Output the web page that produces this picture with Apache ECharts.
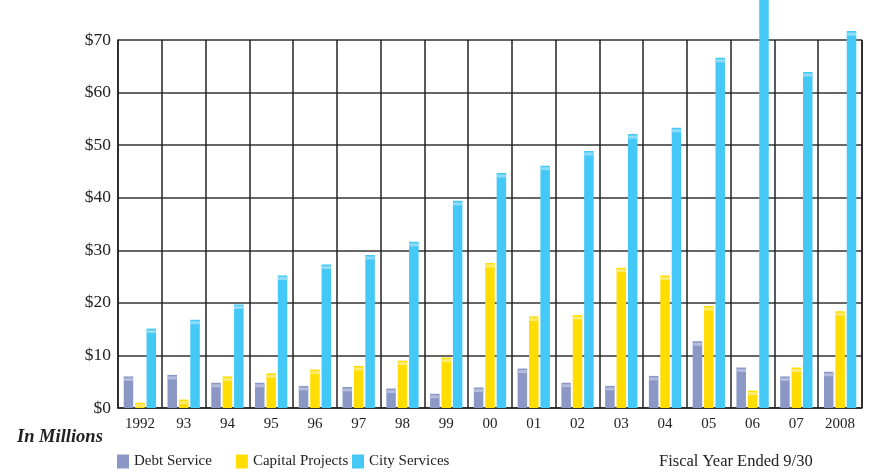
<!DOCTYPE html>
<html>
<head>
<meta charset="utf-8">
<script src="https://cdn.jsdelivr.net/npm/echarts@6/dist/echarts.min.js"></script>
<style>html,body{margin:0;padding:0;background:#fff;}#c{width:878px;height:474px;}</style>
</head>
<body>
<div id="c"></div>
<script>
var categories = ['1992','93','94','95','96','97','98','99','00','01','02','03','04','05','06','07','2008'];
var debtService = [6.0,6.3,4.8,4.8,4.2,4.0,3.7,2.7,3.9,7.5,4.8,4.2,6.1,12.7,7.7,6.0,6.9];
var capitalProjects = [1.0,1.6,6.0,6.6,7.3,8.0,9.0,9.6,27.6,17.4,17.7,26.7,25.2,19.4,3.3,7.7,18.4];
var cityServices = [15.1,16.8,19.7,25.2,27.3,29.1,31.6,39.4,44.7,46.1,48.9,52.1,53.3,66.6,80,63.9,71.7];
var yTicks = ['$0','$10','$20','$30','$40','$50','$60','$70'];
var seriesNames = ['Debt Service','Capital Projects','City Services'];

var colors = ['#8b97c4','#ffdd00','#44c8f5'];
var capColors = ['#b3bcdc','#ffec6e','#8fdcf8'];
var serif = '"Liberation Serif","DejaVu Serif",serif';
var BW = 9.5, GAP = '20%';
var allData = [debtService, capitalProjects, cityServices];

var series = [];
allData.forEach(function(d, i){
  series.push({
    name: seriesNames[i], type: 'bar', data: d, barWidth: BW, barGap: GAP,
    itemStyle: {color: colors[i]}, clip: false, z: 3
  });
});
allData.forEach(function(d, i){
  series.push({
    name: seriesNames[i] + ' cap', type: 'pictorialBar', data: d,
    symbol: 'rect', symbolSize: [BW, 3], symbolPosition: 'end', symbolOffset: [0, 1.5],
    barWidth: BW, barGap: GAP, itemStyle: {color: capColors[i]}, clip: false, z: 4,
    silent: true, legendHoverLink: false
  });
});

var legendText = {fontFamily: serif, fontSize: 15, color: '#222'};
var chart = echarts.init(document.getElementById('c'));
chart.setOption({
  animation: false,
  grid: {left: 118, right: 16, top: 40, bottom: 66, containLabel: false},
  legend: [
    {data: seriesNames.slice(0, 2), left: 117, top: 454, padding: 0, icon: 'rect', itemWidth: 12, itemHeight: 14,
     itemGap: 24, textStyle: legendText, selectedMode: false},
    {data: seriesNames.slice(2), left: 352, top: 454, padding: 0, icon: 'rect', itemWidth: 12, itemHeight: 14,
     textStyle: legendText, selectedMode: false}
  ],
  xAxis: {
    type: 'category', data: categories, boundaryGap: true,
    axisLine: {lineStyle: {color: '#222', width: 1.5}},
    axisTick: {show: false},
    axisLabel: {fontFamily: serif, fontSize: 15, color: '#222', margin: 9},
    splitLine: {show: true, lineStyle: {color: '#222', width: 1.5}}
  },
  yAxis: {
    type: 'value', min: 0, max: 70, interval: 10,
    axisLine: {show: true, lineStyle: {color: '#222', width: 1.5}},
    axisTick: {show: false},
    axisLabel: {fontFamily: serif, fontSize: 17.5, color: '#222', margin: 7,
      formatter: function(v){ return yTicks[Math.round(v/10)]; }},
    splitLine: {show: true, lineStyle: {color: '#333', width: 1.5}}
  },
  graphic: [
    {type: 'text', left: 17, top: 428, style: {text: 'In Millions', font: 'italic bold 18.5px ' + serif, fill: '#222'}},
    {type: 'text', left: 659, top: 453, style: {text: 'Fiscal Year Ended 9/30', font: '16.5px ' + serif, fill: '#222'}},
    {type: 'line', shape: {x1: 862, y1: 40, x2: 862, y2: 408}, style: {stroke: '#222', lineWidth: 1.5}, z: 2}
  ],
  series: series
});
</script>
</body>
</html>
